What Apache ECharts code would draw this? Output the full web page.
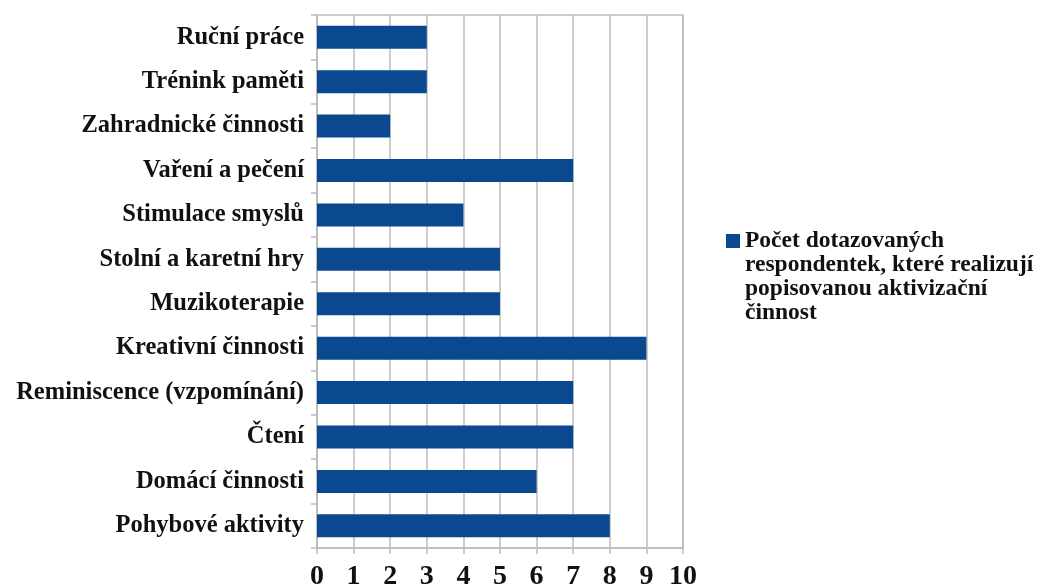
<!DOCTYPE html>
<html><head><meta charset="utf-8">
<script src="https://cdn.jsdelivr.net/npm/echarts@6/dist/echarts.min.js"></script>
<style>html,body{margin:0;padding:0;background:#fff}#c{width:1042px;height:587px}</style>
</head><body><div id="c"></div>
<script>
const categories = ["Pohybové aktivity","Domácí činnosti","Čtení","Reminiscence (vzpomínání)","Kreativní činnosti","Muzikoterapie","Stolní a karetní hry","Stimulace smyslů","Vaření a pečení","Zahradnické činnosti","Trénink paměti","Ruční práce"];
const values = [8,6,7,7,9,5,5,4,7,2,3,3];
const seriesName = "Počet dotazovaných\nrespondentek, které realizují\npopisovanou aktivizační\nčinnost";
const font = "'Liberation Serif','DejaVu Serif',serif";
const chart = echarts.init(document.getElementById('c'));
chart.setOption({
  animation:false,
  grid:{left:317,right:359,top:15,bottom:39,show:true,borderColor:'#bcbcbc',borderWidth:1.5,outerBoundsMode:'none',containLabel:false},
  legend:{
    data:[seriesName], left:726, top:157, orient:'vertical',
    itemWidth:14, itemHeight:14, itemGap:0, padding:0,
    icon:'rect',
    formatter:function(n){return '\n\n\n'+n;},
    textStyle:{fontFamily:font,fontSize:23.5,fontWeight:'bold',color:'#111',lineHeight:24}
  },
  xAxis:{type:'value',min:0,max:10,interval:1,
    axisLine:{show:true,lineStyle:{color:'#bcbcbc',width:1.5}},
    axisTick:{show:true,length:6,lineStyle:{color:'#bcbcbc',width:1.5}},
    splitLine:{show:true,lineStyle:{color:'#bcbcbc',width:1.5}},
    axisLabel:{fontFamily:font,fontSize:28,fontWeight:'bold',color:'#111',margin:15}
  },
  yAxis:{type:'category',data:categories,
    axisLine:{show:true,lineStyle:{color:'#bcbcbc',width:1.5}},
    axisTick:{show:true,length:6,lineStyle:{color:'#bcbcbc',width:1.5}},
    axisLabel:{fontFamily:font,fontSize:24.5,fontWeight:'bold',color:'#111',margin:13}
  },
  series:[{name:seriesName,type:'bar',data:values,barWidth:23,itemStyle:{color:'#0a4990'}}]
});
</script></body></html>
